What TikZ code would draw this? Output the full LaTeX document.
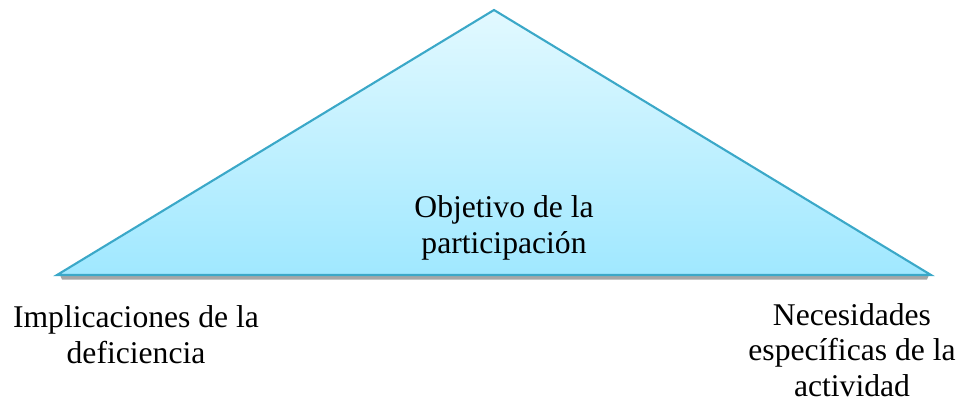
\documentclass[tikz,border=0pt]{standalone}
\usepackage{fontspec}
\setmainfont{Liberation Serif}
\tikzset{
  lbl/.style = {align=center, font=\fontsize{18}{20}\selectfont, inner sep=0pt, anchor=base},
  edge/.style = {draw={rgb,255:red,59;green,168;blue,200}, line width=1.2pt, line join=miter},
}
\definecolor{topcyan}{RGB}{226,249,255}
\definecolor{botcyan}{RGB}{160,232,255}
\begin{document}
\begin{tikzpicture}[x=0.02cm, y=-0.02cm]
    \useasboundingbox (0,0) rectangle (963,402);
    \coordinate (apex) at (494,10);
    \coordinate (left) at (57,275);
    \coordinate (right) at (931,275);
    % shadow under the base
    \fill [gray!70] (60,275) -- (929,275) -- (927,279.5) -- (62,279.5) -- cycle;
    \shade [top color=topcyan, bottom color=botcyan] (apex) -- (left) -- (right) -- cycle;
    \draw [edge] (apex) -- (left) -- (right) -- cycle;
    \node [lbl] (goal) at (504,253) {Objetivo de la\\participación};
    \node [lbl] (impl) at (136,363) {Implicaciones de la\\deficiencia};
    \node [lbl] (need) at (852,396) {Necesidades\\específicas de la\\actividad};
  \end{tikzpicture}
\end{document}
